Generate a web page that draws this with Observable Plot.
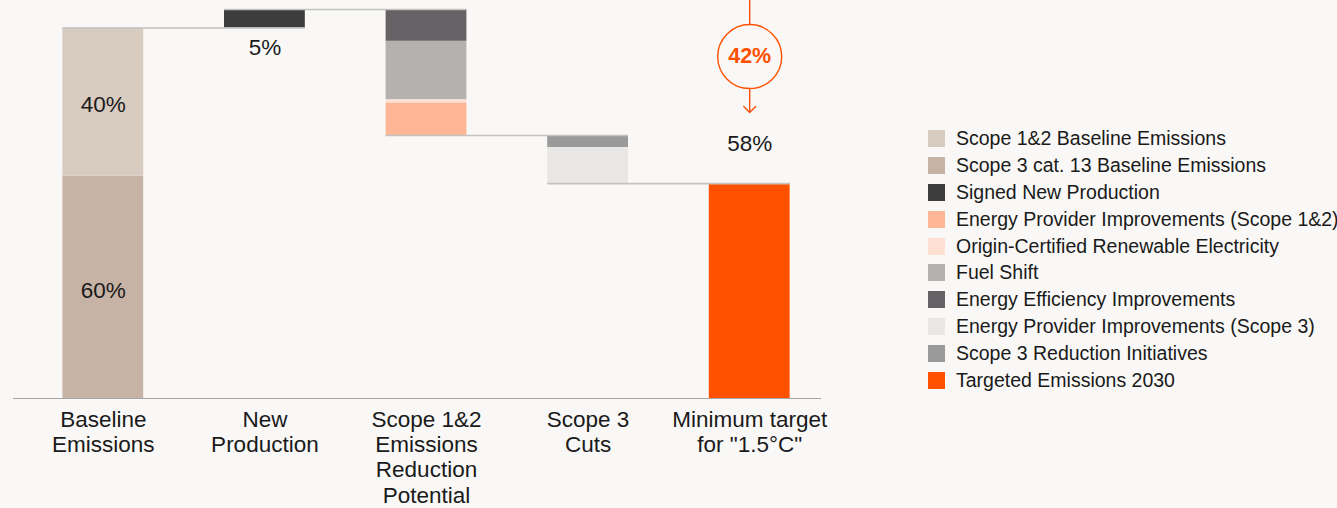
<!DOCTYPE html>
<html>
<head>
<meta charset="utf-8">
<script src="https://cdn.jsdelivr.net/npm/d3@7"></script>
<script src="https://cdn.jsdelivr.net/npm/@observablehq/plot@0.6"></script>
<style>
  html, body { margin: 0; padding: 0; background: #f9f8f6; }
  body { width: 1337px; height: 508px; position: relative; overflow: hidden;
         font-family: "Liberation Sans", Arial, Helvetica, sans-serif; color: #1a1a1a; }
  #chart { position: absolute; left: 0; top: 0; }
  #legend { position: absolute; left: 928px; top: 125px; }
  .row { display: flex; align-items: center; height: 26.9px; font-size: 19.5px; white-space: nowrap; }
  .sw { width: 17px; height: 17px; margin-right: 11px; flex: none; }
</style>
</head>
<body>
<div id="chart"></div>
<div id="legend"></div>
<script>
// ---- data ----
const categories = ["Baseline Emissions", "New Production", "Scope 1&2 Emissions Reduction Potential", "Scope 3 Cuts", "Minimum target for \"1.5°C\""];
const categoryLabels = ["Baseline\nEmissions", "New\nProduction", "Scope 1&2\nEmissions\nReduction\nPotential", "Scope 3\nCuts", "Minimum target\nfor \"1.5°C\""];
const categoryIsTotal = [true, false, false, false, true];

const seriesNames = [
  "Scope 1&2 Baseline Emissions",
  "Scope 3 cat. 13 Baseline Emissions",
  "Signed New Production",
  "Energy Provider Improvements (Scope 1&2)",
  "Origin-Certified Renewable Electricity",
  "Fuel Shift",
  "Energy Efficiency Improvements",
  "Energy Provider Improvements (Scope 3)",
  "Scope 3 Reduction Initiatives",
  "Targeted Emissions 2030"
];
const seriesColors = ["#d8cbc0", "#c6b3a5", "#3e3d3e", "#ffb697", "#ffdfd2", "#b4b2b0", "#646265", "#e8e7e5", "#9a9a9a", "#ff5000"];

const segmentCategory = [categories[0], categories[0], categories[1], categories[2], categories[2], categories[2], categories[2], categories[3], categories[3], categories[4]];
const segmentSeries = [
  "Scope 3 cat. 13 Baseline Emissions", "Scope 1&2 Baseline Emissions",
  "Signed New Production",
  "Energy Efficiency Improvements", "Fuel Shift", "Origin-Certified Renewable Electricity", "Energy Provider Improvements (Scope 1&2)",
  "Scope 3 Reduction Initiatives", "Energy Provider Improvements (Scope 3)",
  "Targeted Emissions 2030"
];
const segmentValues = [60, 40, 5, -8.6, -15.8, -0.9, -8.7, -3.3, -9.7, 58];

// annotation (reduction arrow): values on the y scale
const reductionArrow = [{category: categories[4], top: 107.5, circle: 92.3, tip: 77.2}];

// ---- build waterfall ----
const segments = [];
const levels = [];
let level = 0;
categories.forEach((c, k) => {
  let cursor = categoryIsTotal[k] ? 0 : level;
  segmentCategory.forEach((sc, i) => {
    if (sc !== c) return;
    const v = segmentValues[i];
    const lo = v >= 0 ? cursor : cursor + v;
    const hi = v >= 0 ? cursor + v : cursor;
    cursor = v >= 0 ? hi : lo;
    segments.push({category: c, series: segmentSeries[i], value: v, lo, hi});
  });
  level = cursor;
  levels.push(level);
});
const connectors = categories.slice(0, -1).map((c, k) => ({x1: c, x2: categories[k + 1], y: levels[k]}));
const total = levels[0];
const target = levels[levels.length - 1];
const labelsByCat = new Map(categories.map((c, i) => [c, categoryLabels[i]]));

const orange = "#ff5000";
const bg = "#f9f8f6";
const ink = "#1a1a1a";

const chart = Plot.plot({
  width: 840,
  height: 508,
  marginTop: 9,
  marginBottom: 110,
  marginLeft: 13,
  marginRight: 19,
  style: {background: "transparent", fontFamily: "'Liberation Sans', Arial, sans-serif", color: ink},
  x: {type: "band", domain: categories, range: [22, 830], paddingInner: 0.5, paddingOuter: 0.25, round: false, axis: null},
  y: {domain: [0, 105], axis: null},
  color: {domain: seriesNames, range: seriesColors},
  marks: [
    Plot.barY(segments, {x: "category", y1: "lo", y2: "hi", fill: "series"}),
    Plot.ruleY(connectors, {x1: "x1", x2: "x2", y: "y", stroke: "#c4c2c0", strokeWidth: 1.6}),
    Plot.ruleY([0], {stroke: "#a6a6a6", strokeWidth: 1}),
    Plot.text(categories, {x: d => d, y: 0, text: d => labelsByCat.get(d), lineAnchor: "top", dy: 10, fontSize: 22.5, lineHeight: 1.13, fill: ink}),
    Plot.text(segments.filter(d => d.category === categories[0]), {x: "category", y: d => (d.lo + d.hi) / 2, text: d => `${d.value}%`, dy: 3, fontSize: 22.5, fill: ink}),
    Plot.text(segments.filter(d => d.category === categories[1]), {x: "category", y: "lo", text: d => `${d.value}%`, lineAnchor: "top", dy: 11, fontSize: 22.5, fill: ink}),
    Plot.text(segments.filter(d => d.category === categories[4]), {x: "category", y: "hi", text: d => `${d.value}%`, lineAnchor: "bottom", dy: -33, fontSize: 22.5, fill: ink}),
    Plot.arrow(reductionArrow, {x1: "category", x2: "category", y1: "top", y2: "tip", stroke: orange, strokeWidth: 1.4, headAngle: 90, headLength: 9}),
    Plot.dot(reductionArrow, {x: "category", y: "circle", r: 32, fill: bg, stroke: orange, strokeWidth: 1.4}),
    Plot.text(reductionArrow, {x: "category", y: "circle", text: () => `${total - target}%`, fill: orange, fontWeight: "bold", fontSize: 21.5})
  ]
});
document.getElementById("chart").appendChild(chart);

// ---- legend ----
const legend = document.getElementById("legend");
seriesNames.forEach((name, i) => {
  const row = document.createElement("div");
  row.className = "row";
  const sw = document.createElement("span");
  sw.className = "sw";
  sw.style.background = seriesColors[i];
  const label = document.createElement("span");
  label.textContent = name;
  row.appendChild(sw);
  row.appendChild(label);
  legend.appendChild(row);
});
</script>
</body>
</html>
